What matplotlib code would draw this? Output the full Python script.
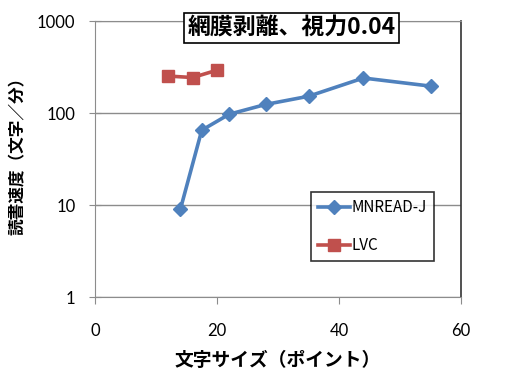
import matplotlib
matplotlib.use("Agg")
import matplotlib.pyplot as plt
from matplotlib.ticker import FixedLocator, NullLocator

jp = ["Noto Sans CJK JP", "DejaVu Sans"]

# data
mn_size = [14, 17.5, 22, 28, 35, 44, 55]
mn_speed = [9, 65, 97, 124, 152, 240, 196]
lvc_size = [12, 16, 20]
lvc_speed = [252, 243, 292]
xticks = [0, 20, 40, 60]
yticks = [1, 10, 100, 1000]

fig = plt.figure(figsize=(5.06, 3.80), dpi=100)
ax = fig.add_axes([95/506, 1-297/380, 366/506, 276/380])

ax.plot(mn_size, mn_speed, color="#4F81BD", lw=2.6, marker="D", ms=7,
        label="MNREAD-J", zorder=3)
ax.plot(lvc_size, lvc_speed, color="#C0504D", lw=2.6, marker="s", ms=8.5,
        label="LVC", zorder=3)

ax.set_yscale("log")
ax.set_xlim(0, 60)
ax.set_ylim(1, 1000)
ax.xaxis.set_major_locator(FixedLocator(xticks))
ax.yaxis.set_major_locator(FixedLocator(yticks))
ax.yaxis.set_minor_locator(NullLocator())
ax.set_yticklabels([str(v) for v in yticks])
ax.set_xticklabels([str(v) for v in xticks])
for lab in ax.get_xticklabels() + ax.get_yticklabels():
    lab.set_fontfamily("Lato")
    lab.set_fontsize(12)

ax.grid(axis="y", color="#8c8c8c", lw=1)
ax.tick_params(axis="y", direction="inout", length=8, color="#8c8c8c", pad=10)
ax.tick_params(axis="x", direction="out", length=5, color="#8c8c8c", pad=14)
for s in ["left", "bottom", "top"]:
    ax.spines[s].set_color("#8c8c8c")
ax.spines["right"].set_color("#333333")
ax.spines["right"].set_linewidth(1.2)

ax.set_xlabel("文字サイズ（ポイント）", family=jp, fontsize=13.5, weight="bold", labelpad=8)
ax.set_ylabel("読書速度（文字／分）", family=jp, fontsize=12, weight="bold")
ax.yaxis.set_label_coords((27-95)/366, (297-152)/276)

fig.text(292/506, 1-28/380, "網膜剥離、視力0.04", family=jp, fontsize=16.5,
         weight="bold", ha="center", va="center",
         bbox=dict(boxstyle="square,pad=0.15", fc="white", ec="black", lw=1.2))

leg = ax.legend(loc="upper left", bbox_to_anchor=((311-95)/366, (297-192)/276),
                prop={"family": jp, "size": 11}, frameon=True, fancybox=False,
                handlelength=2.1, handletextpad=0.1, borderpad=0.45,
                labelspacing=1.4, borderaxespad=0)
leg.get_frame().set_edgecolor("black")
leg.get_frame().set_linewidth(1.2)

fig.savefig("out.png", dpi=100)
